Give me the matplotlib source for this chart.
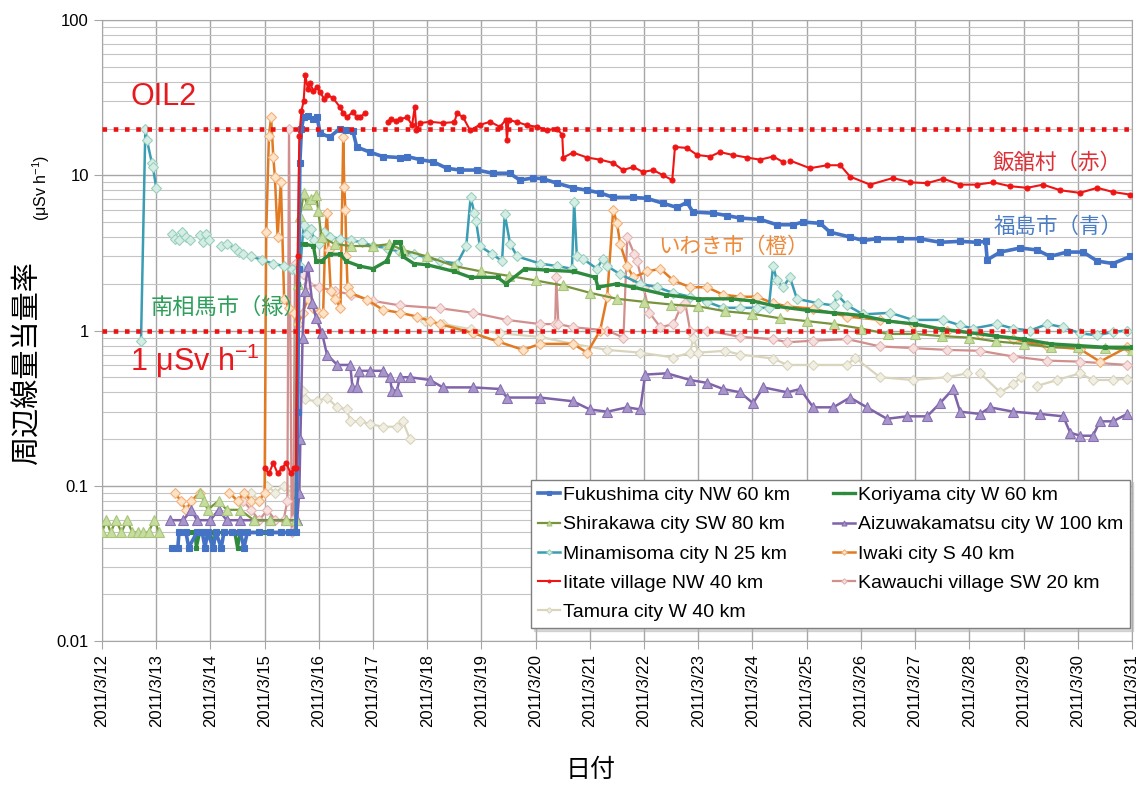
import numpy as np
import matplotlib
matplotlib.use("Agg")
import matplotlib.pyplot as plt
from matplotlib.ticker import FixedLocator, LogLocator, NullFormatter

plt.rcParams['font.family'] = ['Liberation Sans', 'Noto Sans CJK JP']
plt.rcParams['mathtext.default'] = 'regular'

# x = days since 2011/3/12 00:00, y = uSv/h (None = gap)
day_labels = ['2011/3/%d' % d for d in range(12, 32)]

fukushima = [(1.30, 0.04), (1.40, 0.04), (1.42, 0.05), (1.55, 0.05), (1.60, 0.04), (1.75, 0.05), (1.85, 0.05),
             (1.90, 0.04), (1.95, 0.05), (2.05, 0.04), (2.10, 0.05), (2.20, 0.04), (2.25, 0.05), (2.40, 0.05),
             (2.55, 0.05), (2.62, 0.04), (2.68, 0.05), (2.90, 0.05), (3.10, 0.05), (3.30, 0.05), (3.45, 0.05),
             (3.58, 0.05), (3.61, 0.3), (3.63, 2.5), (3.65, 12), (3.68, 20), (3.72, 23.7), (3.80, 24), (3.90, 23),
             (3.97, 23.7), (4.02, 18.7), (4.20, 17.6), (4.39, 20), (4.50, 19.5), (4.63, 19.2), (4.70, 15.2),
             (4.94, 14.1), (5.18, 13.2), (5.50, 13), (5.63, 13.2), (5.87, 12.6), (6.11, 12.2), (6.36, 11.1),
             (6.60, 10.8), (6.92, 10.8), (7.21, 10.3), (7.52, 10.3), (7.71, 9.3), (7.95, 9.6), (8.13, 9.5),
             (8.39, 8.9), (8.69, 8.3), (8.95, 8.0), (9.19, 7.7), (9.43, 7.2), (9.80, 7.2), (10.05, 7.1),
             (10.35, 6.6), (10.61, 6.2), (10.79, 6.7), (10.90, 5.8), (11.27, 5.7), (11.53, 5.5), (11.77, 5.3),
             (12.14, 5.2), (12.45, 4.8), (12.75, 4.8), (12.93, 5.0), (13.25, 4.9), (13.43, 4.3), (13.80, 4.0),
             (14.04, 3.8), (14.30, 3.9), (14.72, 3.9), (15.09, 3.9), (15.46, 3.7), (15.83, 3.75), (16.14, 3.7),
             (16.30, 3.75), (16.33, 2.85), (16.57, 3.2), (16.94, 3.4), (17.25, 3.3), (17.49, 3.0), (17.80, 3.2),
             (18.10, 3.2), (18.36, 2.8), (18.65, 2.7), (18.97, 3.0)]

koriyama = [(1.65, 0.05), (1.72, 0.05), (1.74, 0.04), (1.80, 0.05), (2.00, 0.05), (2.05, 0.04), (2.10, 0.05),
            (2.45, 0.05), (2.50, 0.04), (2.55, 0.05), (3.00, 0.05), (3.30, 0.05), (3.45, 0.05), (3.58, 0.05),
            (3.61, 2.0), (3.63, 3.6), (3.75, 3.6), (3.90, 3.5), (3.95, 2.8), (4.05, 2.8), (4.20, 3.1), (4.40, 3.1),
            (4.50, 2.8), (4.75, 2.6), (5.00, 2.5), (5.25, 2.8), (5.40, 3.7), (5.50, 3.7), (5.55, 3.0), (5.75, 2.7),
            (6.00, 2.65), (6.50, 2.4), (6.80, 2.2), (7.30, 2.2), (7.45, 2.0), (7.80, 2.5), (8.20, 2.45),
            (8.70, 2.4), (9.10, 2.2), (9.15, 1.9), (9.50, 2.0), (9.80, 1.9), (10.40, 1.7), (11.00, 1.6),
            (11.60, 1.6), (12.00, 1.55), (12.45, 1.43), (13.00, 1.35), (13.50, 1.3), (14.00, 1.25), (14.50, 1.15),
            (15.00, 1.1), (15.50, 1.02), (16.00, 0.97), (16.50, 0.92), (17.00, 0.88), (17.50, 0.82), (18.00, 0.8),
            (18.50, 0.78), (19.00, 0.78)]

shirakawa = [(0.00, 0.05), (0.08, 0.06), (0.16, 0.05), (0.26, 0.06), (0.36, 0.05), (0.46, 0.06), (0.56, 0.05),
             (0.66, 0.05), (0.76, 0.05), (0.86, 0.05), (0.96, 0.06), (1.06, 0.05), (1.15, None), (1.80, 0.09),
             (1.88, 0.08), (1.95, 0.07), (2.15, 0.08), (2.30, 0.07), (2.55, 0.07), (2.80, 0.06), (3.10, 0.06),
             (3.40, 0.06), (3.58, 0.06), (3.62, 2.0), (3.66, 5.5), (3.72, 7.7), (3.78, 6.5), (3.85, 7.0),
             (3.95, 7.5), (3.99, 5.9), (4.05, 4.0), (4.30, 3.6), (4.60, 3.5), (5.00, 3.5), (5.30, 3.6), (5.55, 3.3),
             (6.00, 3.0), (6.50, 2.6), (7.00, 2.4), (7.50, 2.25), (8.00, 2.1), (8.50, 1.95), (9.00, 1.75),
             (9.50, 1.6), (10.00, 1.53), (10.50, 1.47), (11.00, 1.43), (11.50, 1.33), (12.00, 1.28), (12.50, 1.2),
             (13.00, 1.15), (13.50, 1.1), (14.00, 1.03), (14.50, 0.95), (15.00, 0.95), (15.50, 0.92), (16.00, 0.9),
             (16.50, 0.85), (17.00, 0.82), (17.50, 0.78), (18.00, 0.78), (18.50, 0.77), (19.00, 0.75)]

aizuwakamatsu = [(1.25, 0.06), (1.50, 0.06), (1.65, 0.07), (1.75, 0.06), (2.00, 0.06), (2.15, 0.07), (2.30, 0.06),
                 (2.55, 0.06), (2.80, 0.06), (3.10, 0.06), (3.40, 0.06), (3.60, 0.06), (3.64, 0.09), (3.66, 0.2),
                 (3.70, 0.9), (3.74, 1.8), (3.80, 2.6), (3.88, 1.5), (3.95, 1.2), (4.06, 0.96), (4.15, 0.7),
                 (4.34, 0.6), (4.58, 0.6), (4.62, 0.43), (4.70, 0.43), (4.75, 0.55), (4.94, 0.55), (5.18, 0.55),
                 (5.31, 0.5), (5.35, 0.41), (5.44, 0.41), (5.50, 0.5), (5.68, 0.5), (6.05, 0.48), (6.29, 0.43),
                 (6.85, 0.43), (7.34, 0.42), (7.47, 0.37), (8.08, 0.37), (8.69, 0.35), (9.00, 0.31), (9.32, 0.30),
                 (9.69, 0.32), (9.93, 0.31), (10.02, 0.52), (10.42, 0.53), (10.85, 0.48), (11.16, 0.46),
                 (11.46, 0.42), (11.77, 0.40), (12.01, 0.34), (12.20, 0.43), (12.64, 0.40), (12.88, 0.42),
                 (13.12, 0.32), (13.49, 0.32), (13.80, 0.37), (14.11, 0.32), (14.48, 0.27), (14.85, 0.28),
                 (15.22, 0.28), (15.46, 0.34), (15.70, 0.42), (15.83, 0.30), (16.20, 0.29), (16.38, 0.32),
                 (16.81, 0.30), (17.31, 0.29), (17.73, 0.28), (17.86, 0.22), (18.04, 0.21), (18.28, 0.21),
                 (18.41, 0.26), (18.65, 0.26), (18.91, 0.29)]

minamisoma = [(0.72, 0.86), (0.80, 20), (0.83, 16.8), (0.92, 12), (0.94, 11.3), (1.00, 8.3), (1.05, None),
              (1.30, 4.2), (1.34, 3.9), (1.42, 3.8), (1.48, 4.3), (1.55, 4.0), (1.62, 3.8), (1.70, None),
              (1.80, 4.1), (1.86, 3.7), (1.92, 4.2), (1.97, 3.8), (2.05, None), (2.20, 3.5), (2.30, 3.6),
              (2.45, 3.4), (2.52, 3.2), (2.60, 3.1), (2.75, 3.0), (2.95, 2.85), (3.15, 2.7), (3.35, 2.6),
              (3.50, 2.5), (3.60, 2.4), (3.66, 2.6), (3.72, 4.8), (3.78, 4.2), (3.85, 4.5), (3.92, 3.8),
              (4.00, 3.6), (4.10, 4.3), (4.20, 4.0), (4.40, 3.9), (4.60, 3.8), (4.80, 3.7), (5.00, 3.5),
              (5.25, 3.4), (5.50, 3.2), (5.75, 3.1), (6.00, 2.95), (6.24, 2.8), (6.55, 2.7), (6.72, 3.5),
              (6.80, 7.2), (6.87, 5.7), (6.90, 5.1), (6.97, 3.5), (7.20, 3.1), (7.38, 2.8), (7.43, 5.6),
              (7.53, 3.6), (7.66, 3.0), (8.08, 2.7), (8.39, 2.6), (8.67, 2.5), (8.71, 6.7), (8.76, 3.0),
              (8.87, 2.9), (9.13, 2.5), (9.24, 2.9), (9.32, 2.6), (9.56, 2.3), (9.93, 2.0), (10.24, 1.9),
              (10.53, 1.75), (10.85, 1.65), (11.16, 1.53), (11.46, 1.4), (11.77, 1.4), (12.08, 1.4),
              (12.30, 1.4), (12.38, 2.6), (12.45, 2.1), (12.56, 1.9), (12.69, 2.2), (12.82, 1.6), (13.20, 1.5),
              (13.50, 1.45), (13.56, 1.7), (13.75, 1.45), (14.04, 1.27), (14.54, 1.3), (14.96, 1.17),
              (15.52, 1.17), (15.83, 1.08), (16.07, 1.03), (16.51, 1.1), (16.81, 1.03), (17.12, 1.0),
              (17.44, 1.1), (17.73, 1.05), (18.04, 0.96), (18.36, 0.93), (18.65, 0.98), (18.91, 1.0)]

iwaki = [(1.35, 0.09), (1.45, 0.08), (1.55, 0.07), (1.65, 0.08), (1.80, 0.09), (1.95, None), (2.35, 0.09),
         (2.50, 0.08), (2.62, 0.09), (2.75, 0.08), (2.90, 0.08), (3.00, 0.09), (3.03, 4.3), (3.08, 18),
         (3.12, 23.7), (3.16, 13.2), (3.19, 9.7), (3.24, 4.0), (3.30, 9.1), (3.36, 1.6), (3.45, 1.4), (3.55, 1.3),
         (3.62, 1.1), (3.70, 1.3), (3.80, 1.6), (3.90, 1.4), (4.00, 1.3), (4.08, 1.3), (4.12, 4.2), (4.15, 5.7),
         (4.18, 3.3), (4.22, 1.8), (4.30, 1.6), (4.40, 1.4), (4.45, 17.6), (4.47, 8.4), (4.49, 6.0), (4.51, 3.0),
         (4.53, 1.9), (4.58, 1.75), (4.89, 1.58), (5.18, 1.36), (5.50, 1.3), (5.81, 1.23), (6.05, 1.15),
         (6.24, 1.1), (6.85, 0.96), (7.30, 0.85), (7.77, 0.75), (8.08, 0.82), (8.69, 0.82), (8.95, 0.72),
         (9.19, 1.0), (9.32, 1.65), (9.43, 6.0), (9.50, 4.9), (9.56, 3.6), (9.69, 2.6), (9.80, 2.2), (10.06, 2.4),
         (10.30, 2.5), (10.54, 2.1), (10.85, 1.9), (11.16, 1.9), (11.46, 1.7), (11.77, 1.65), (12.08, 1.65),
         (12.38, 1.5), (12.64, 1.43), (13.12, 1.38), (13.75, 1.23), (14.35, 1.17), (14.96, 1.1), (15.59, 1.0),
         (16.20, 0.95), (16.81, 0.88), (17.44, 0.79), (18.04, 0.76), (18.41, 0.63), (18.91, 0.78)]

iitate = [(3.00, 0.13), (3.08, 0.12), (3.16, 0.14), (3.24, 0.12), (3.32, 0.13), (3.40, 0.14), (3.48, 0.12),
          (3.55, 0.13), (3.58, 0.13), (3.61, 3.0), (3.64, 18), (3.68, 26), (3.72, 30), (3.75, 44), (3.80, 36),
          (3.84, 39), (3.90, 35), (3.97, 37), (4.02, 34.4), (4.10, 31), (4.15, 33), (4.26, 31.5), (4.39, 27.5),
          (4.45, 25), (4.52, 23.7), (4.63, 25.6), (4.70, 23.7), (4.76, 23.7), (4.85, 25), (4.90, None),
          (5.28, 22), (5.33, 23), (5.42, 22.5), (5.50, 23), (5.63, 23.6), (5.72, 21), (5.77, 27.5), (5.80, 19.5),
          (5.87, 21.7), (6.05, 22.1), (6.29, 21.7), (6.50, 22), (6.55, 25), (6.66, 23.7), (6.79, 19.5),
          (6.97, 21.1), (7.16, 22.1), (7.34, 20.5), (7.45, 22.7), (7.47, 16.9), (7.50, 22.7), (7.66, 22),
          (7.84, 21), (8.03, 20.5), (8.21, 19.5), (8.39, 20), (8.49, 18.2), (8.51, 13), (8.69, 14), (8.95, 13),
          (9.19, 12.6), (9.43, 12), (9.61, 10.8), (9.80, 11.3), (9.98, 10.5), (10.17, 10.8), (10.35, 10),
          (10.52, 9.3), (10.57, 15.2), (10.79, 15), (10.98, 13.5), (11.22, 13.2), (11.40, 14.1), (11.64, 13.5),
          (11.90, 13), (12.14, 12.6), (12.38, 13.2), (12.56, 12.2), (12.62, None), (12.70, 12.4), (13.06, 11.1),
          (13.38, 11.6), (13.62, 11.6), (13.80, 9.8), (14.17, 8.7), (14.59, 9.6), (14.91, 9.0), (15.22, 8.9),
          (15.52, 9.5), (15.83, 8.7), (16.14, 8.7), (16.44, 9.0), (16.75, 8.5), (17.07, 8.3), (17.36, 8.7),
          (17.68, 8.0), (18.04, 7.7), (18.36, 8.3), (18.65, 7.8), (18.97, 7.5)]

kawauchi = [(2.60, 0.08), (2.75, 0.07), (2.90, 0.06), (3.05, 0.07), (3.20, 0.06), (3.35, 0.06), (3.42, 0.08),
            (3.45, 20), (3.50, 0.05), (3.53, 0.06), (3.56, 2.7), (3.62, 2.6), (3.70, 2.3), (3.80, 2.0), (4.00, 1.9),
            (4.30, 1.8), (4.60, 1.7), (5.00, 1.55), (5.50, 1.45), (6.24, 1.39), (6.85, 1.3), (7.47, 1.17),
            (8.08, 1.1), (8.36, 1.1), (8.38, 2.2), (8.42, 1.1), (8.69, 1.05), (9.32, 1.0), (9.62, 0.9), (9.69, 4.0),
            (9.82, 3.1), (9.87, 2.8), (9.99, 1.9), (10.10, 1.3), (10.30, 1.05), (10.54, 1.1), (10.67, 1.4),
            (10.76, 1.5), (10.85, 1.0), (11.16, 1.0), (11.77, 0.91), (12.38, 0.88), (12.64, 0.84), (13.12, 0.86),
            (13.75, 0.88), (14.35, 0.79), (14.96, 0.77), (15.59, 0.75), (16.20, 0.74), (16.81, 0.68),
            (17.44, 0.64), (18.04, 0.63), (18.91, 0.6)]

tamura = [(2.75, 0.09), (2.90, 0.08), (3.05, 0.1), (3.20, 0.09), (3.35, 0.1), (3.50, 0.09), (3.58, 0.1),
          (3.62, 0.44), (3.70, 0.41), (3.74, 0.36), (3.96, 0.35), (4.15, 0.37), (4.34, 0.32), (4.52, 0.31),
          (4.58, 0.26), (4.76, 0.26), (4.94, 0.25), (5.18, 0.24), (5.44, 0.24), (5.55, 0.26), (5.68, 0.2),
          (5.75, None), (5.95, 1.15), (6.30, 1.1), (6.80, 1.02), (7.34, 0.96), (8.08, 0.91), (8.69, 0.82),
          (9.32, 0.75), (9.93, 0.72), (10.54, 0.67), (10.85, 0.72), (10.91, 0.9), (11.00, 0.72), (11.50, 0.74),
          (11.77, 0.7), (12.38, 0.66), (12.64, 0.6), (13.12, 0.6), (13.75, 0.6), (13.89, 0.67), (14.35, 0.5),
          (14.96, 0.48), (15.59, 0.5), (15.96, 0.53), (16.05, None), (16.20, 0.53), (16.57, 0.4), (16.81, 0.45),
          (16.95, 0.5), (17.05, None), (17.25, 0.44), (17.62, 0.48), (18.04, 0.53), (18.28, 0.48),
          (18.65, 0.48), (18.91, 0.49)]

# label, data, line colour, marker, size, face, edge, line width
series = [
    ('Fukushima city NW 60 km', fukushima, '#4472C4', 's', 4.5, '#4472C4', '#4472C4', 2.6),
    ('Shirakawa city SW 80 km', shirakawa, '#77933C', '^', 6.5, '#C7DD9F', '#A8C67A', 1.6),
    ('Minamisoma city N 25 km', minamisoma, '#3A9DB3', 'D', 5, '#D5EEE5', '#9BCFBE', 1.8),
    ('Iitate village NW 40 km', iitate, '#F01515', 'o', 3.6, '#F01515', '#F01515', 1.5),
    ('Tamura city W 40 km', tamura, '#D9D5BC', 'D', 5, '#F1EFE4', '#D9D4BB', 1.6),
    ('Koriyama city W 60 km', koriyama, '#2E8B3E', 's', 3.5, '#2E8B3E', '#2E8B3E', 2.4),
    ('Aizuwakamatsu city W 100 km', aizuwakamatsu, '#7F62A8', '^', 6.5, '#A896CB', '#8670B3', 1.8),
    ('Iwaki city S 40 km', iwaki, '#E27A22', 'D', 5, '#FDE3C8', '#F2B27A', 1.8),
    ('Kawauchi village SW 20 km', kawauchi, '#D18F8E', 'D', 5, '#F6E0DF', '#E5B5B3', 1.6),
]
draw_order = [4, 8, 7, 2, 6, 1, 5, 0, 3]

fig = plt.figure(figsize=(11.42, 7.87), dpi=100)
ax = fig.add_axes([0.0893, 0.1855, 0.9019, 0.7891])

handles = [None] * len(series)
for i in draw_order:
    label, data, lc, mk, ms, mfc, mec, lw = series[i]
    t = np.array([p[0] for p in data], dtype=float)
    v = np.array([p[1] for p in data], dtype=float)
    line, = ax.plot(t, v, color=lc, lw=lw, marker=mk, ms=ms, mfc=mfc, mec=mec, mew=0.8, label=label, zorder=3)
    handles[i] = line

ax.axhline(20, color='#EE1111', lw=3.3, ls=(0, (1, 1.45)), zorder=5)
ax.axhline(1, color='#EE1111', lw=3.3, ls=(0, (1, 1.45)), zorder=5)

ax.set_yscale('log')
ax.set_ylim(0.01, 100)
ax.set_xlim(0, 19)
ax.yaxis.set_major_locator(FixedLocator([0.01, 0.1, 1, 10, 100]))
ax.set_yticklabels(['0.01', '0.1', '1', '10', '100'])
ax.yaxis.set_minor_locator(LogLocator(base=10, subs=np.arange(2, 10)))
ax.yaxis.set_minor_formatter(NullFormatter())
ax.set_xticks(range(len(day_labels)))
ax.set_xticklabels(day_labels, rotation=90)
ax.tick_params(which='major', labelsize=12, color='#a6a6a6', length=6)
ax.tick_params(which='minor', length=0)
ax.grid(which='major', color='#a6a6a6', lw=1.0)
ax.grid(which='minor', axis='y', color='#c4c4c4', lw=0.8)
ax.set_axisbelow(True)
for s in ax.spines.values():
    s.set_color('#a6a6a6')

jp = ['Noto Sans CJK JP']
ax.text(0.52, 32, 'OIL2', color='#E8191E', fontsize=22, va='center', zorder=6)
ax.text(0.52, 0.64, '1 μSv h$^{-1}$', color='#E8191E', fontsize=22, va='center', zorder=6)
ax.text(0.89, 1.40, '南相馬市（緑）', color='#2CA05A', fontsize=16, va='center', family=jp, zorder=6)
ax.text(10.26, 3.45, 'いわき市（橙）', color='#EE8A3A', fontsize=15.5, va='center', family=jp, zorder=6)
ax.text(16.44, 12.0, '飯舘村（赤）', color='#DE3038', fontsize=15.5, va='center', family=jp, zorder=6)
ax.text(16.44, 4.64, '福島市（青）', color='#4A7DC4', fontsize=15.5, va='center', family=jp, zorder=6)

fig.text(0.024, 0.539, '周辺線量当量率', rotation=90, fontsize=21, va='center', ha='center', family=jp)
fig.text(0.036, 0.761, '(μSv h$^{-1}$)', rotation=90, fontsize=11.5, va='center', ha='center')
fig.text(0.517, 0.022, '日付', fontsize=18, va='center', ha='center', family=jp)

leg = ax.legend(handles=handles, ncol=2, loc='lower left', bbox_to_anchor=(0.4165, 0.021), borderaxespad=0,
                fontsize=14, markerscale=0.55, handlelength=1.15, handletextpad=0.15, columnspacing=2.2,
                labelspacing=0.6, borderpad=0.35, fancybox=False, edgecolor='#7f7f7f', framealpha=1,
                shadow={'color': '#b5b5b5'})
leg.set_zorder(7)

fig.savefig('out.png', dpi=100)
